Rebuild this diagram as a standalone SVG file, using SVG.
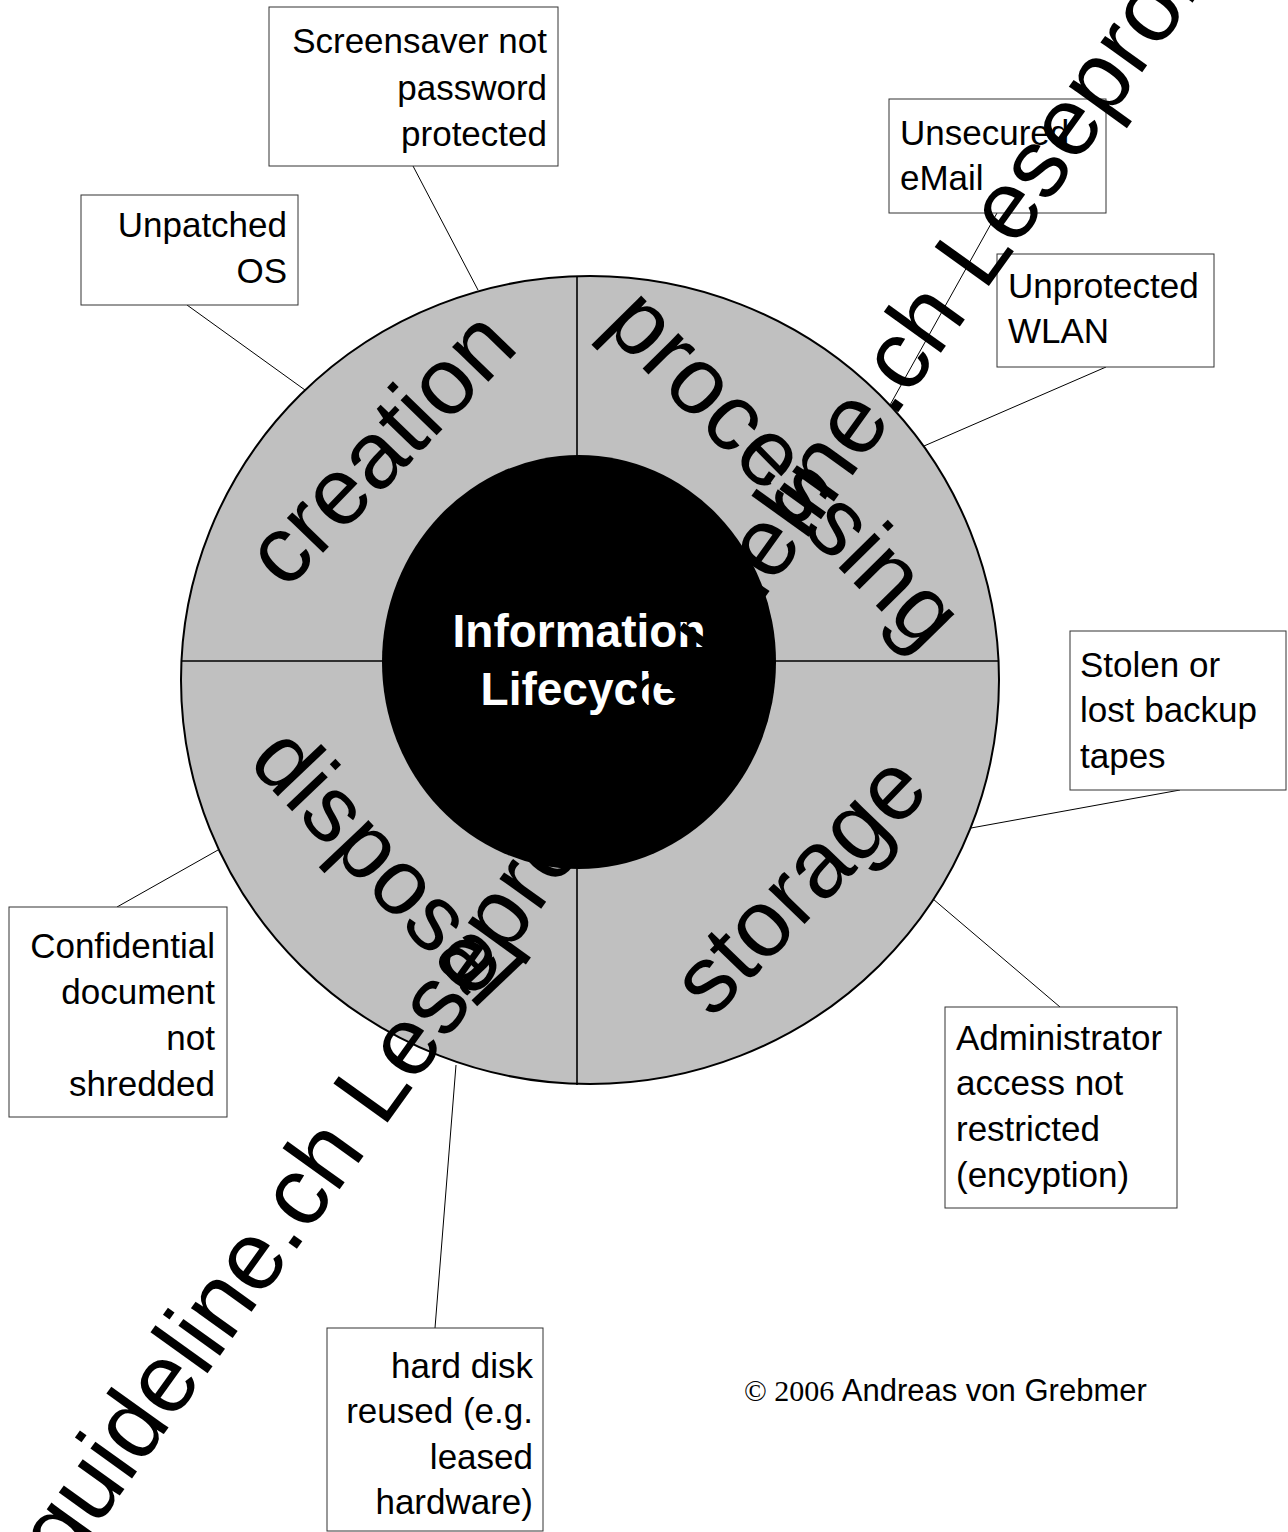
<svg xmlns="http://www.w3.org/2000/svg" width="1288" height="1532" viewBox="0 0 1288 1532">
<style>
.box{fill:#fff;stroke:#333;stroke-width:1}
.t{font-family:"Liberation Sans",Arial,sans-serif;font-size:35px;fill:#000}
.r{text-anchor:end}
.conn line{stroke:#000;stroke-width:1}
.seg{font-family:"Liberation Sans",Arial,sans-serif;font-size:95px;fill:#000;text-anchor:middle}
.wm{font-family:"Liberation Sans",Arial,sans-serif;font-size:97px;fill:#000}
.div{stroke:#000;stroke-width:1.6}
.ctr{font-family:"Liberation Sans",Arial,sans-serif;font-size:46px;font-weight:bold;fill:#fff;text-anchor:middle}
</style>
<rect width="1288" height="1532" fill="#fff"/>
<g id="connectors" class="conn">
<line x1="413" y1="166" x2="478" y2="290"/>
<line x1="187" y1="305" x2="305" y2="390"/>
<line x1="997" y1="213" x2="890" y2="405"/>
<line x1="1106" y1="367" x2="924" y2="446"/>
<line x1="1180" y1="790" x2="971" y2="828"/>
<line x1="1060" y1="1007" x2="933" y2="899"/>
<line x1="117" y1="907" x2="218" y2="850"/>
<line x1="435" y1="1328" x2="456" y2="1065"/>
</g>
<g id="lifecycle">
<ellipse cx="590" cy="680" rx="409" ry="404" fill="#c0c0c0" stroke="#000" stroke-width="2"/>
<line class="div" x1="577" y1="276" x2="577" y2="1085"/>
<line class="div" x1="181" y1="661" x2="999" y2="661"/>
<ellipse cx="579" cy="662" rx="197" ry="207" fill="#000"/>
<text class="ctr" x="579" y="647">Information</text>
<text class="ctr" x="579" y="705">Lifecycle</text>
</g>
<g id="seg-creation"><text class="seg" transform="translate(403,470) rotate(-46)">creation</text></g>
<g id="seg-processing"><text class="seg" transform="translate(762,490) rotate(45.5)">processing</text></g>
<g id="seg-storage"><text class="seg" transform="translate(822,906) rotate(-46)">storage</text></g>
<g id="seg-disposal"><text class="seg" style="font-size:93px" transform="translate(364,887) rotate(46.5)">disposal</text></g>
<g id="n-screensaver"><rect class="box" x="269" y="7" width="289" height="159"/>
<text class="t r"><tspan x="547" y="53">Screensaver not</tspan><tspan x="547" y="100">password</tspan><tspan x="547" y="146">protected</tspan></text></g>
<g id="n-unpatched"><rect class="box" x="81" y="195" width="217" height="110"/>
<text class="t r"><tspan x="287" y="237">Unpatched</tspan><tspan x="287" y="283">OS</tspan></text></g>
<g id="n-email"><rect class="box" x="889" y="99" width="217" height="114"/>
<text class="t"><tspan x="900" y="145">Unsecured</tspan><tspan x="900" y="190">eMail</tspan></text></g>
<g id="n-wlan"><rect class="box" x="997" y="254" width="217" height="113"/>
<text class="t"><tspan x="1008" y="298">Unprotected</tspan><tspan x="1008" y="343">WLAN</tspan></text></g>
<g id="n-tapes"><rect class="box" x="1070" y="631" width="216" height="159"/>
<text class="t"><tspan x="1080" y="677">Stolen or</tspan><tspan x="1080" y="722">lost backup</tspan><tspan x="1080" y="768">tapes</tspan></text></g>
<g id="n-admin"><rect class="box" x="945" y="1007" width="232" height="201"/>
<text class="t"><tspan x="956" y="1050">Administrator</tspan><tspan x="956" y="1095">access not</tspan><tspan x="956" y="1141">restricted</tspan><tspan x="956" y="1187">(encyption)</tspan></text></g>
<g id="n-shred"><rect class="box" x="9" y="907" width="218" height="210"/>
<text class="t r"><tspan x="215" y="958">Confidential</tspan><tspan x="215" y="1004">document</tspan><tspan x="215" y="1050">not</tspan><tspan x="215" y="1096">shredded</tspan></text></g>
<g id="n-disk"><rect class="box" x="327" y="1328" width="216" height="203"/>
<text class="t r"><tspan x="533" y="1378">hard disk</tspan><tspan x="533" y="1423">reused (e.g.</tspan><tspan x="533" y="1469">leased</tspan><tspan x="533" y="1514">hardware)</tspan></text></g>
<g id="copyright"><text x="744" y="1401" style="font-size:31px"><tspan style="font-family:'Liberation Serif','Times New Roman',serif;font-size:30px">© 2006 </tspan><tspan style="font-family:'Liberation Sans',Arial,sans-serif">Andreas von Grebmer</tspan></text></g>
<g id="watermark"><text class="wm" transform="translate(383,1129) rotate(-54.3)" x="-544.6" y="0">guideline.ch Leseprobe guideline.ch Leseprobe</text></g>
</svg>
